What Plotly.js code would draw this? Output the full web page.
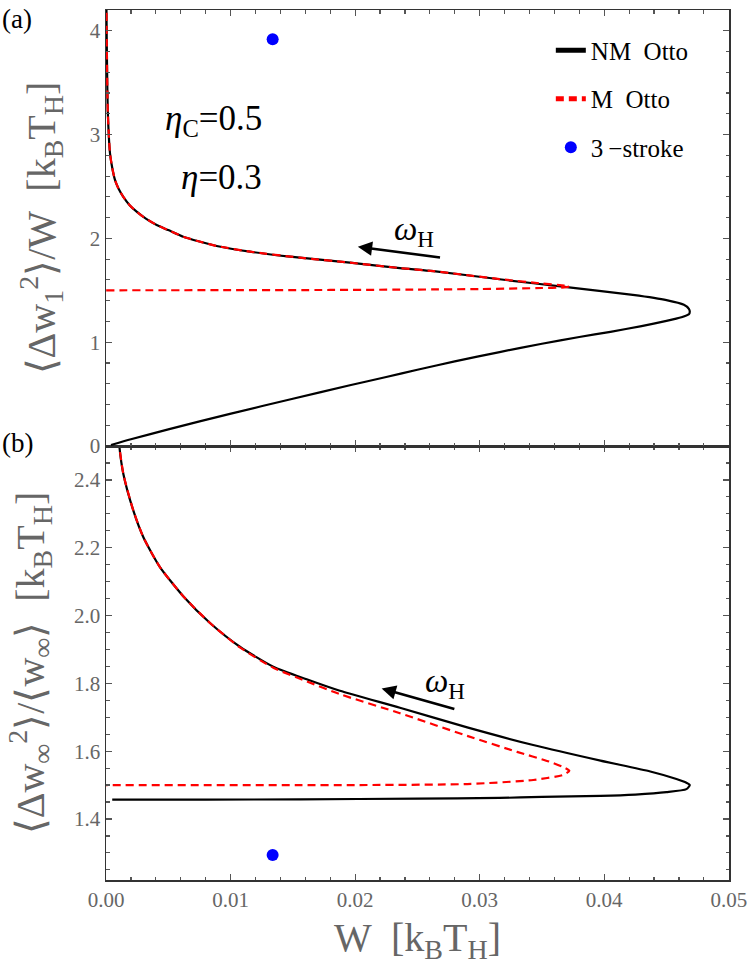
<!DOCTYPE html>
<html>
<head>
<meta charset="utf-8">
<script src="https://cdn.plot.ly/plotly-3.0.1.min.js"></script>
<style>
  html, body { margin: 0; padding: 0; background: #fff; }
  #chart { width: 747px; height: 965px; }
</style>
</head>
<body>
<div id="chart"></div>
<script>
// (a) panel : <Δw1²>/W against W
const nmTopW = [0.00003, 0.00006, 0.0001, 0.00015, 0.00032, 0.0005, 0.00072, 0.001, 0.00139, 0.0019,
  0.00246, 0.0032, 0.00407, 0.005, 0.0062, 0.0075, 0.00888, 0.01156, 0.01557, 0.01958, 0.0236, 0.0263,
  0.0316, 0.037, 0.0423, 0.045, 0.0464, 0.0468, 0.04687, 0.0468, 0.0462, 0.045, 0.043, 0.0405, 0.038,
  0.035, 0.0316, 0.028, 0.025, 0.0225, 0.01958, 0.015, 0.00995, 0.005, 0.002, 0.0004];
const nmTopY = [4.3, 3.9, 3.5, 3.2, 2.82, 2.68, 2.563, 2.48, 2.40, 2.32,
  2.257, 2.19, 2.129, 2.08, 2.016, 1.97, 1.927, 1.872, 1.814, 1.766, 1.714, 1.684,
  1.606, 1.530, 1.455, 1.405, 1.36, 1.322, 1.294, 1.268, 1.24, 1.205, 1.155, 1.10, 1.05,
  0.985, 0.905, 0.815, 0.735, 0.665, 0.585, 0.455, 0.31, 0.16, 0.065, 0.01];

const mTopW = [0.00003, 0.00006, 0.0001, 0.00015, 0.00032, 0.0005, 0.00072, 0.001, 0.00139, 0.0019,
  0.00246, 0.0032, 0.00407, 0.005, 0.0062, 0.0075, 0.00888, 0.01156, 0.01557, 0.01958, 0.0236, 0.0263,
  0.0316, 0.035, 0.0368, 0.0372, 0.0368, 0.035, 0.030, 0.025, 0.018, 0.010, 0.0];
const mTopY = [4.3, 3.9, 3.5, 3.2, 2.82, 2.68, 2.563, 2.48, 2.40, 2.32,
  2.257, 2.19, 2.129, 2.08, 2.016, 1.97, 1.927, 1.872, 1.814, 1.766, 1.714, 1.684,
  1.608, 1.565, 1.545, 1.538, 1.528, 1.522, 1.512, 1.507, 1.503, 1.501, 1.5];

// (b) panel : <Δw∞²>/<w∞> against W
const nmBotW = [0.00104, 0.00107, 0.00139, 0.00219, 0.003, 0.00433, 0.0062, 0.00835, 0.01075, 0.01343,
  0.01611, 0.01878, 0.0236, 0.029, 0.0343, 0.0397, 0.0437, 0.0458, 0.0466, 0.04687, 0.0466, 0.045,
  0.0425, 0.0397, 0.035, 0.0316, 0.025, 0.0156, 0.008, 0.0005];
const nmBotY = [2.52, 2.5, 2.418, 2.31, 2.231, 2.143, 2.057, 1.978, 1.908, 1.849,
  1.812, 1.778, 1.728, 1.670, 1.618, 1.572, 1.540, 1.518, 1.507, 1.5, 1.488, 1.479,
  1.472, 1.468, 1.465, 1.462, 1.46, 1.458, 1.457, 1.457];

const mBotW = [0.00104, 0.00107, 0.00139, 0.00219, 0.003, 0.00433, 0.0062, 0.00835, 0.01075, 0.01343,
  0.01611, 0.01878, 0.0236, 0.029, 0.033, 0.0356, 0.0367, 0.0372, 0.0367, 0.0343, 0.029, 0.02,
  0.0156, 0.0];
const mBotY = [2.52, 2.5, 2.418, 2.31, 2.231, 2.143, 2.057, 1.978, 1.906, 1.846,
  1.806, 1.768, 1.712, 1.645, 1.598, 1.569, 1.553, 1.542, 1.53, 1.515, 1.503, 1.5,
  1.5, 1.5];

// 3-stroke engine points
const strokeW = [0.01338];
const strokeTopY = [3.918];
const strokeBotY = [1.294];

const serif = '"Liberation Serif", "Times New Roman", serif';
const grey = '#666';

const nmLine = {color: '#000', width: 2.2, shape: 'spline', smoothing: 0.6};
const mLine = {color: '#ff0000', width: 2.2, dash: '8px,5px', shape: 'spline', smoothing: 0.6};

const traces = [
  {x: nmTopW, y: nmTopY, xaxis: 'x2', yaxis: 'y2', mode: 'lines', name: 'NM  Otto',
   line: nmLine, legendgroup: 'a'},
  {x: mTopW, y: mTopY, xaxis: 'x2', yaxis: 'y2', mode: 'lines', name: 'M  Otto',
   line: mLine, legendgroup: 'b'},
  {x: strokeW, y: strokeTopY, xaxis: 'x2', yaxis: 'y2', mode: 'markers', name: '3\u2009\u2212stroke',
   marker: {color: '#0000ff', size: 12}, legendgroup: 'c'},
  {x: nmBotW, y: nmBotY, xaxis: 'x', yaxis: 'y', mode: 'lines', showlegend: false, line: nmLine},
  {x: mBotW, y: mBotY, xaxis: 'x', yaxis: 'y', mode: 'lines', showlegend: false, line: mLine},
  {x: strokeW, y: strokeBotY, xaxis: 'x', yaxis: 'y', mode: 'markers', showlegend: false,
   marker: {color: '#0000ff', size: 12}}
];

const split = 434 / 870;

function frameAxis(extra) {
  return Object.assign({
    showline: true, linecolor: '#333', linewidth: 1.5, mirror: 'allticks',
    ticks: 'inside', ticklen: 6, tickwidth: 1.2, tickcolor: '#555',
    showgrid: false, zeroline: false, fixedrange: true, ticklabeloverflow: 'allow',
    tickfont: {family: serif, size: 21, color: grey}
  }, extra);
}

const layout = {
  width: 747, height: 965,
  margin: {l: 106, r: 18, t: 10, b: 85},
  paper_bgcolor: '#fff', plot_bgcolor: '#fff',
  font: {family: serif, color: '#000'},
  showlegend: true,
  legend: {
    x: 0.714, y: 0.98, xanchor: 'left', yanchor: 'top',
    bgcolor: 'rgba(0,0,0,0)', font: {family: serif, size: 25, color: '#000'},
    tracegroupgap: 13, itemsizing: 'constant'
  },
  xaxis: frameAxis({
    domain: [0, 1], anchor: 'y', range: [0, 0.05002], dtick: 0.01, tick0: 0, tickformat: '.2f',
    minor: {dtick: 0.002, ticks: 'inside', ticklen: 3.5, tickcolor: '#555'},
    title: {text: 'W  [k<sub>B</sub>T<sub>H</sub>]', font: {family: serif, size: 40, color: grey}, standoff: 24}
  }),
  yaxis: frameAxis({
    domain: [0, split], anchor: 'x', range: [1.22, 2.5], dtick: 0.2, tick0: 0, tickformat: '.1f',
    minor: {dtick: 0.05, ticks: 'inside', ticklen: 3.5, tickcolor: '#555'},
    title: {text: '\u27e8\u0394w<sub>\u221e</sub><sup>2</sup>\u27e9/\u27e8w<sub>\u221e</sub>\u27e9  [k<sub>B</sub>T<sub>H</sub>]',
            font: {family: serif, size: 40, color: grey}, standoff: 17}
  }),
  xaxis2: frameAxis({
    domain: [0, 1], anchor: 'y2', matches: 'x', range: [0, 0.05002], dtick: 0.01, tick0: 0, showticklabels: false,
    minor: {dtick: 0.002, ticks: 'inside', ticklen: 3.5, tickcolor: '#555'}
  }),
  yaxis2: frameAxis({
    domain: [split, 1], anchor: 'x2', range: [0, 4.2], dtick: 1,
    minor: {dtick: 0.2, ticks: 'inside', ticklen: 3.5, tickcolor: '#555'},
    title: {text: '\u27e8\u0394w<sub>1</sub><sup>2</sup>\u27e9/W  [k<sub>B</sub>T<sub>H</sub>]',
            font: {family: serif, size: 40, color: grey}, standoff: 22}
  }),
  annotations: [
    {text: '(a)', xref: 'paper', yref: 'paper', x: -0.17, y: 1.009, xanchor: 'left', yanchor: 'top',
     showarrow: false, font: {family: serif, size: 27, color: '#000'}},
    {text: '(b)', xref: 'paper', yref: 'paper', x: -0.17, y: split + 0.003, xanchor: 'left', yanchor: 'middle',
     showarrow: false, font: {family: serif, size: 27, color: '#000'}},
    {text: '<i>\u03b7</i><sub>C</sub>=0.5', xref: 'x2', yref: 'y2', x: 0.0127, y: 3.14, xanchor: 'right',
     showarrow: false, font: {family: serif, size: 35, color: '#000'}},
    {text: '<i>\u03b7</i>=0.3', xref: 'x2', yref: 'y2', x: 0.0127, y: 2.59, xanchor: 'right',
     showarrow: false, font: {family: serif, size: 35, color: '#000'}},
    {text: '<i>\u03c9</i><sub>H</sub>', xref: 'x2', yref: 'y2', x: 0.0247, y: 2.07,
     showarrow: false, font: {family: serif, size: 33, color: '#000'}},
    {text: '', xref: 'x2', yref: 'y2', x: 0.02022, y: 1.92, axref: 'x2', ayref: 'y2', ax: 0.02694, ay: 1.814,
     showarrow: true, arrowhead: 2, arrowsize: 1.1, arrowwidth: 2.6, arrowcolor: '#000', standoff: 0},
    {text: '<i>\u03c9</i><sub>H</sub>', xref: 'x', yref: 'y', x: 0.0272, y: 1.80,
     showarrow: false, font: {family: serif, size: 33, color: '#000'}},
    {text: '', xref: 'x', yref: 'y', x: 0.02213, y: 1.785, axref: 'x', ayref: 'y', ax: 0.02809, ay: 1.723,
     showarrow: true, arrowhead: 2, arrowsize: 1.1, arrowwidth: 2.6, arrowcolor: '#000', standoff: 0}
  ]
};

Plotly.newPlot('chart', traces, layout, {displayModeBar: false, staticPlot: true});
</script>
</body>
</html>
